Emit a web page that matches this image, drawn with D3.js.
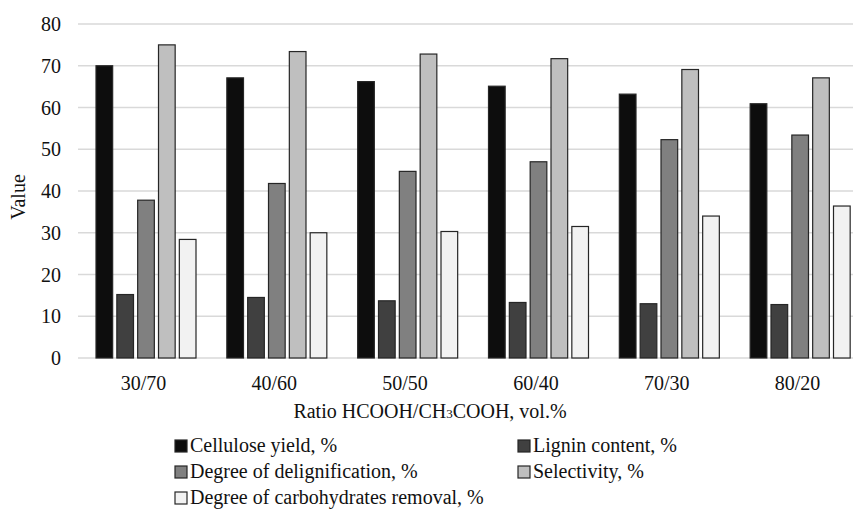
<!DOCTYPE html>
<html lang="en">
  <head>
    <script src="https://d3js.org/d3.v7.min.js"></script>
    <style>
      body { margin: 0; background: white; }
      svg text { font-family: "Liberation Serif", "DejaVu Serif", "Times New Roman", Times, serif; fill: #111; }
      .grid line { stroke: #d9d9d9; stroke-width: 1.5; }
      .bar { stroke: #262626; stroke-width: 1.2; }
    </style>
  </head>
  <body>
    <div id="chart"></div>
    <script>
      let width = 853;
      let height = 510;

      // Data
      let categories = ["30/70", "40/60", "50/50", "60/40", "70/30", "80/20"];
      let seriesNames = [
        "Cellulose yield, %",
        "Lignin content, %",
        "Degree of delignification, %",
        "Selectivity, %",
        "Degree of carbohydrates removal, %"
      ];
      let cellulose = [70.0, 67.1, 66.2, 65.1, 63.2, 60.9];
      let lignin = [15.2, 14.5, 13.7, 13.3, 13.0, 12.8];
      let delignification = [37.8, 41.8, 44.7, 47.0, 52.3, 53.4];
      let selectivity = [75.0, 73.4, 72.8, 71.7, 69.1, 67.1];
      let carbohydrates = [28.4, 30.0, 30.3, 31.5, 34.0, 36.4];
      let yTicks = [0, 10, 20, 30, 40, 50, 60, 70, 80];
      let colors = ["#0d0d0d", "#404040", "#808080", "#bfbfbf", "#f2f2f2"];

      let series = [cellulose, lignin, delignification, selectivity, carbohydrates];

      let svg = d3
        .select("#chart")
        .append("svg")
        .attr("width", width)
        .attr("height", height);

      let x = d3.scaleBand().domain(categories).range([78, 863]);
      let xInner = d3
        .scaleBand()
        .domain(d3.range(series.length))
        .range([18, 118])
        .paddingInner(0.2);
      let y = d3.scaleLinear().domain([0, 80]).range([358, 24]);

      // Gridlines
      svg
        .append("g")
        .classed("grid", true)
        .selectAll("line")
        .data(yTicks)
        .enter()
        .append("line")
        .attr("x1", 78)
        .attr("x2", width)
        .attr("y1", function (d) { return y(d); })
        .attr("y2", function (d) { return y(d); });

      // Y tick labels
      svg
        .append("g")
        .selectAll("text")
        .data(yTicks)
        .enter()
        .append("text")
        .attr("x", 61)
        .attr("y", function (d) { return y(d) + 7; })
        .attr("text-anchor", "end")
        .style("font-size", "20px")
        .text(function (d) { return d; });

      // Bars
      let groups = svg
        .append("g")
        .selectAll("g")
        .data(categories)
        .enter()
        .append("g")
        .attr("transform", function (d) { return "translate(" + x(d) + ",0)"; });

      groups
        .selectAll("rect")
        .data(function (d, i) {
          return series.map(function (s, k) { return { k: k, v: s[i] }; });
        })
        .enter()
        .append("rect")
        .classed("bar", true)
        .attr("x", function (d) { return xInner(d.k); })
        .attr("width", xInner.bandwidth())
        .attr("y", function (d) { return y(d.v); })
        .attr("height", function (d) { return y(0) - y(d.v); })
        .attr("fill", function (d) { return colors[d.k]; });

      // X tick labels
      svg
        .append("g")
        .selectAll("text")
        .data(categories)
        .enter()
        .append("text")
        .attr("x", function (d) { return x(d) + x.bandwidth() / 2; })
        .attr("y", 390)
        .attr("text-anchor", "middle")
        .style("font-size", "20px")
        .text(function (d) { return d; });

      // Axis titles
      let xTitle = svg
        .append("text")
        .attr("x", 430)
        .attr("y", 418)
        .attr("text-anchor", "middle")
        .style("font-size", "20px");
      xTitle.append("tspan").text("Ratio HCOOH/CH");
      xTitle.append("tspan").style("font-size", "13px").text("3");
      xTitle.append("tspan").text("COOH, vol.%");

      svg
        .append("text")
        .attr("transform", "translate(25,197) rotate(-90)")
        .attr("text-anchor", "middle")
        .style("font-size", "20px")
        .text("Value");

      // Legend
      let legendPos = [
        [175, 452],
        [518, 452],
        [175, 478],
        [518, 478],
        [175, 504]
      ];
      let legend = svg
        .append("g")
        .selectAll("g")
        .data(seriesNames)
        .enter()
        .append("g")
        .attr("transform", function (d, i) {
          return "translate(" + legendPos[i][0] + "," + legendPos[i][1] + ")";
        });
      legend
        .append("rect")
        .classed("bar", true)
        .attr("x", 0)
        .attr("y", -12)
        .attr("width", 12)
        .attr("height", 12)
        .attr("fill", function (d, i) { return colors[i]; });
      legend
        .append("text")
        .attr("x", 15)
        .attr("y", 0)
        .style("font-size", "20px")
        .text(function (d) { return d; });
    </script>
  </body>
</html>
